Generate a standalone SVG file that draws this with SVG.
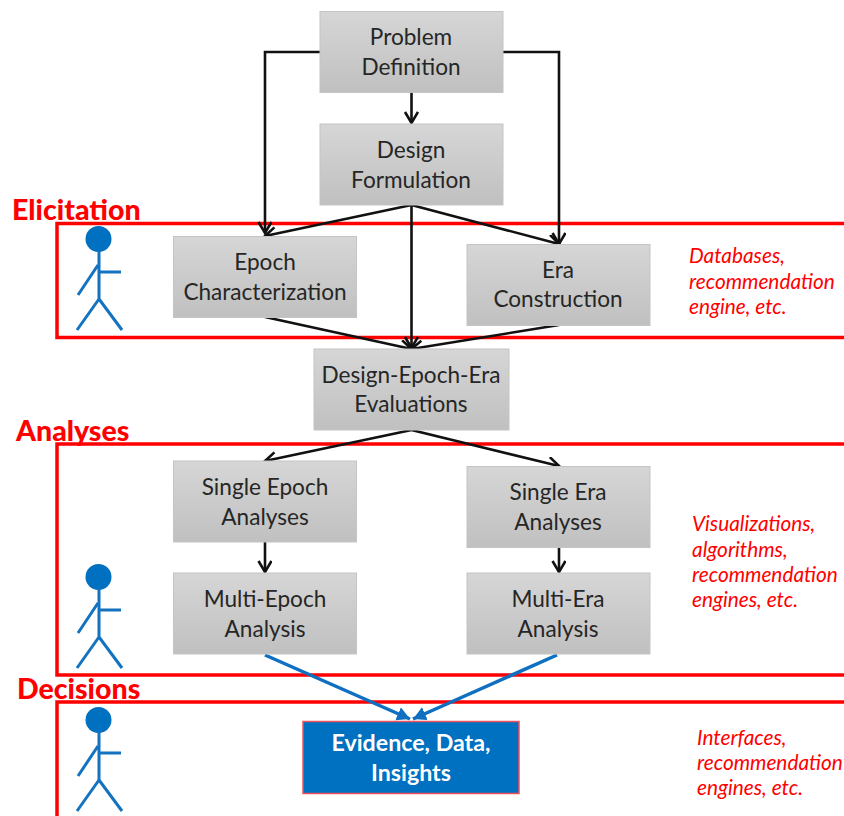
<svg xmlns="http://www.w3.org/2000/svg" width="844" height="816" viewBox="0 0 844 816">
<style>
.n{fill:url(#g);stroke:#c4c4c4;stroke-width:1}
.t{font-family:Lato,"Open Sans",sans-serif;font-size:22.600px;fill:#262626;text-anchor:middle}
.w{font-family:Lato,"Open Sans",sans-serif;font-size:23.200px;font-weight:700;fill:#fff;text-anchor:middle}
.h{font-family:Lato,"Open Sans",sans-serif;font-size:28.500px;font-weight:900;fill:#f00}
.i{font-family:Lato,"Open Sans",sans-serif;font-size:20.800px;font-style:italic;fill:#f00}
.r{fill:none;stroke:#f00;stroke-width:3.500}
.c{fill:none;stroke:#111;stroke-width:2.600;marker-end:url(#a)}
.b{fill:none;stroke:#0f6fc0;stroke-width:3.500;marker-end:url(#ab)}
.p{fill:none;stroke:#1473c0;stroke-width:3}
</style>
<defs>
<linearGradient id="g" x1="0" y1="0" x2="0" y2="1"><stop offset="0" stop-color="#d6d6d6"/><stop offset="1" stop-color="#c0c0c0"/></linearGradient>
<marker id="a" markerUnits="userSpaceOnUse" markerWidth="16" markerHeight="16" refX="12" refY="7" orient="auto"><path d="M1 0.500L12 7L1 13.500" fill="none" stroke="#111" stroke-width="2.600"/></marker>
<marker id="ab" markerUnits="userSpaceOnUse" markerWidth="16" markerHeight="16" refX="13" refY="7" orient="auto"><path d="M0 0L13 7L0 14Z" fill="#0f6fc0"/></marker>
<g id="person"><circle cx="98.500" cy="239" r="13" fill="#0070c0"/><path class="p" d="M99 251V299M99 299L77 330M99 299L122 330M98 265L78 295M100 272H121"/></g>
</defs>
<g id="regions">
<rect class="r" x="57" y="223.500" width="800" height="114"/>
<rect class="r" x="57" y="444" width="800" height="231"/>
<rect class="r" x="57" y="702" width="800" height="130"/>
</g>
<g id="connectors">
<path class="c" d="M320 52H265V233"/>
<path class="c" d="M503 52H559V244"/>
<path class="c" d="M411.500 93V123"/>
<path class="c" d="M411.500 205L265 236"/>
<path class="c" d="M411.500 205L559 244"/>
<path class="c" d="M411.500 205V348"/>
<path class="c" d="M265 317L411.500 349"/>
<path class="c" d="M559 325L411.500 349"/>
<path class="c" d="M411.500 430L265 461"/>
<path class="c" d="M411.500 430L559 466"/>
<path class="c" d="M265 542V572"/>
<path class="c" d="M559 547V572"/>
<path class="b" d="M265 655L410 719"/>
<path class="b" d="M557 655L413 719"/>
</g>
<g id="problem"><rect class="n" x="320" y="11.500" width="183" height="81"/><text class="t" x="411" y="45">Problem</text><text class="t" x="411" y="75">Definition</text></g>
<g id="formulation"><rect class="n" x="320" y="124" width="183" height="81"/><text class="t" x="411" y="158">Design</text><text class="t" x="411" y="188">Formulation</text></g>
<g id="epoch-char"><rect class="n" x="173.500" y="236.500" width="183" height="81"/><text class="t" x="265" y="270">Epoch</text><text class="t" x="265" y="300">Characterization</text></g>
<g id="era-con"><rect class="n" x="467" y="244.500" width="183" height="81"/><text class="t" x="558" y="278">Era</text><text class="t" x="558" y="307">Construction</text></g>
<g id="evaluations"><rect class="n" x="314" y="349" width="195" height="81"/><text class="t" x="411" y="383">Design-Epoch-Era</text><text class="t" x="411" y="412">Evaluations</text></g>
<g id="single-epoch"><rect class="n" x="173.500" y="461" width="183" height="81"/><text class="t" x="265" y="495">Single Epoch</text><text class="t" x="265" y="525">Analyses</text></g>
<g id="single-era"><rect class="n" x="467" y="466.500" width="183" height="81"/><text class="t" x="558" y="500">Single Era</text><text class="t" x="558" y="530">Analyses</text></g>
<g id="multi-epoch"><rect class="n" x="173.500" y="573" width="183" height="81"/><text class="t" x="265" y="607">Multi-Epoch</text><text class="t" x="265" y="637">Analysis</text></g>
<g id="multi-era"><rect class="n" x="467" y="573" width="183" height="81"/><text class="t" x="558" y="607">Multi-Era</text><text class="t" x="558" y="637">Analysis</text></g>
<g id="evidence"><rect x="303" y="721.500" width="216" height="72" fill="#0070c0" stroke="#f0525c" stroke-width="1.500"/><text class="w" x="411" y="751">Evidence, Data,</text><text class="w" x="411" y="781">Insights</text></g>
<g id="labels">
<text class="h" x="12" y="220">Elicitation</text>
<text class="h" x="16" y="441">Analyses</text>
<text class="h" x="17" y="699">Decisions</text>
<text class="i" x="689" y="263">Databases,</text><text class="i" x="689" y="289">recommendation</text><text class="i" x="689" y="314">engine, etc.</text>
<text class="i" x="692" y="531">Visualizations,</text><text class="i" x="692" y="557">algorithms,</text><text class="i" x="692" y="582">recommendation</text><text class="i" x="692" y="607">engines, etc.</text>
<text class="i" x="697" y="745">Interfaces,</text><text class="i" x="697" y="770">recommendation</text><text class="i" x="697" y="795">engines, etc.</text>
</g>
<g id="actor-1"><use href="#person"/></g>
<g id="actor-2"><use href="#person" y="338"/></g>
<g id="actor-3"><use href="#person" y="481"/></g>
</svg>
